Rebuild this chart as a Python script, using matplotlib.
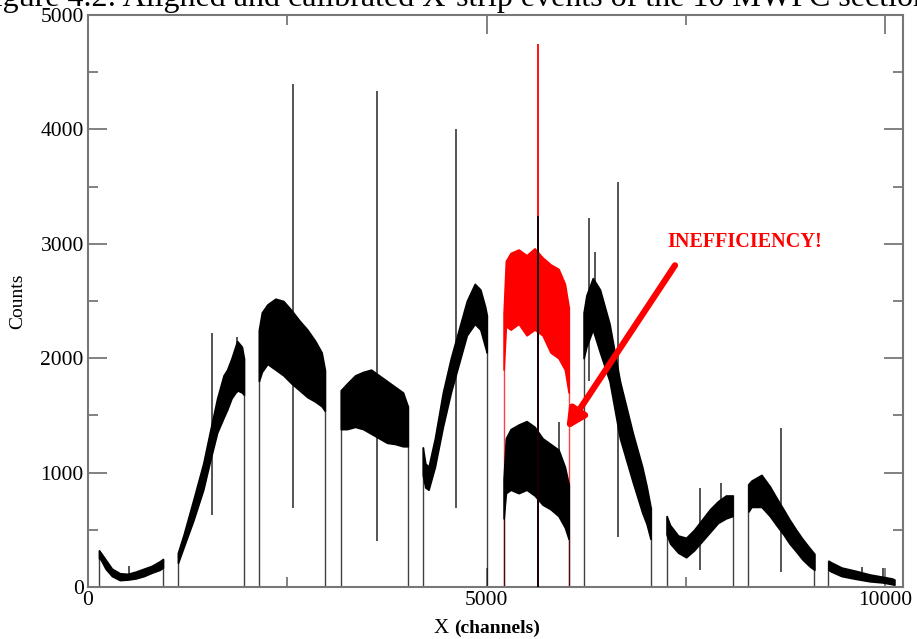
import numpy as np
import matplotlib
matplotlib.use('Agg')
import matplotlib.pyplot as plt
from matplotlib.ticker import MultipleLocator

plt.rcParams['font.family'] = ['Liberation Serif', 'DejaVu Serif']

# envelope of each 10-strip section (channel, upper, lower counts)
s1_x = [138, 160, 220, 300, 400, 500, 600, 700, 800, 900, 940]
s1_hi = [320, 300, 240, 160, 120, 115, 135, 160, 185, 225, 245]
s1_lo = [250, 240, 160, 95, 60, 65, 75, 95, 125, 150, 170]

s2_x = [1128, 1200, 1320, 1445, 1530, 1620, 1700, 1745, 1800, 1870, 1930, 1955]
s2_hi = [300, 460, 760, 1080, 1360, 1650, 1850, 1900, 2000, 2150, 2100, 2000]
s2_lo = [210, 350, 580, 850, 1100, 1350, 1480, 1550, 1650, 1720, 1700, 1680]

s3_x = [2143, 2180, 2250, 2350, 2450, 2550, 2650, 2750, 2850, 2930, 2970]
s3_hi = [2250, 2400, 2470, 2520, 2500, 2420, 2330, 2250, 2150, 2050, 1900]
s3_lo = [1800, 1880, 1950, 1900, 1850, 1780, 1720, 1660, 1620, 1580, 1540]

s4_x = [3170, 3250, 3350, 3450, 3550, 3650, 3750, 3850, 3950, 4010]
s4_hi = [1720, 1780, 1850, 1880, 1900, 1850, 1800, 1750, 1700, 1580]
s4_lo = [1380, 1380, 1400, 1380, 1340, 1300, 1260, 1250, 1230, 1230]

s5_x = [4198, 4230, 4270, 4350, 4450, 4550, 4650, 4750, 4850, 4920, 4980, 5000]
s5_hi = [1220, 1080, 1050, 1300, 1700, 2000, 2250, 2500, 2650, 2600, 2450, 2380]
s5_lo = [980, 870, 850, 1050, 1400, 1700, 1950, 2200, 2300, 2250, 2100, 2050]

# section 6: before (red) and after (black) alignment
s6_x = [5212, 5240, 5300, 5400, 5500, 5600, 5700, 5800, 5900, 5980, 6027]
s6r_hi = [2400, 2850, 2920, 2950, 2900, 2960, 2880, 2820, 2780, 2650, 2450]
s6r_lo = [1900, 2280, 2250, 2300, 2200, 2250, 2200, 2050, 2000, 1900, 1700]
s6_hi = [950, 1300, 1380, 1420, 1450, 1400, 1300, 1250, 1200, 1050, 900]
s6_lo = [600, 820, 850, 820, 850, 800, 720, 680, 620, 520, 420]

s7_x = [6215, 6250, 6330, 6420, 6540, 6670, 6830, 6950, 7005, 7054]
s7_hi = [2400, 2550, 2700, 2600, 2300, 1800, 1350, 1050, 880, 700]
s7_lo = [2000, 2100, 2250, 2050, 1800, 1300, 920, 650, 550, 420]

s8_x = [7255, 7300, 7400, 7500, 7600, 7700, 7800, 7900, 8000, 8082]
s8_hi = [620, 540, 450, 430, 500, 590, 680, 750, 800, 800]
s8_lo = [460, 380, 300, 260, 320, 400, 480, 560, 600, 620]

s9_x = [8282, 8320, 8445, 8550, 8633, 8720, 8796, 8880, 8960, 9050, 9109]
s9_hi = [900, 930, 980, 880, 780, 680, 590, 500, 420, 340, 290]
s9_lo = [660, 700, 700, 620, 540, 460, 380, 310, 240, 180, 150]

s10_x = [9285, 9320, 9450, 9635, 9800, 9960, 10080, 10112]
s10_hi = [230, 215, 170, 140, 110, 90, 75, 65]
s10_lo = [150, 135, 95, 70, 50, 40, 25, 20]

# single hot channels
spike_x = [515, 1560, 1870, 2570, 3620, 4611, 5910, 6278, 6353, 6641, 7670, 7944, 8690, 9711, 9974]
spike_lo = [60, 630, 1700, 690, 400, 690, 800, 1800, 2400, 440, 150, 700, 130, 60, 40]
spike_hi = [180, 2220, 2185, 4400, 4340, 4000, 1440, 3225, 2930, 3540, 865, 910, 1390, 175, 165]
peak_x = 5640
peak_red = 4750
peak_black = 3240

black_secs = [(s1_x, s1_hi, s1_lo), (s2_x, s2_hi, s2_lo), (s3_x, s3_hi, s3_lo),
              (s4_x, s4_hi, s4_lo), (s5_x, s5_hi, s5_lo), (s7_x, s7_hi, s7_lo),
              (s8_x, s8_hi, s8_lo), (s9_x, s9_hi, s9_lo), (s10_x, s10_hi, s10_lo)]

fig = plt.figure(figsize=(9.17, 6.39), dpi=100)
ax = fig.add_axes([88/917, 1-587/639, 815/917, 572/639])


def band(x, hi, lo, col):
    ax.fill_between(x, lo, hi, color=col, lw=1.2, zorder=2)
    ax.vlines([x[0], x[-1]], 0, [hi[0], hi[-1]], color=col, lw=1.0, alpha=0.75, zorder=2)


for x, hi, lo in black_secs:
    band(x, hi, lo, 'black')

band(s6_x, s6r_hi, s6r_lo, 'red')
ax.vlines(peak_x, 0, peak_red, color='red', lw=1.3, zorder=3)
band(s6_x, s6_hi, s6_lo, 'black')
ax.vlines(peak_x, 0, peak_black, color='black', lw=1.3, zorder=4)
ax.vlines(spike_x, spike_lo, spike_hi, color='black', lw=1.1, alpha=0.85, zorder=3)

ax.annotate('', xy=(5977, 1355), xytext=(7380, 2832),
            arrowprops=dict(arrowstyle='-|>', color='red', lw=4.5, mutation_scale=28))
ax.text(8232, 3015, 'INEFFICIENCY!', color='red', fontweight='bold',
        ha='center', va='center', fontsize=14.5)

ax.set_xlim(0, 10220)
ax.set_ylim(0, 5000)
ax.xaxis.set_major_locator(MultipleLocator(5000))
ax.xaxis.set_minor_locator(MultipleLocator(2500))
ax.yaxis.set_major_locator(MultipleLocator(1000))
ax.yaxis.set_minor_locator(MultipleLocator(500))
ax.tick_params(which='both', direction='in', top=True, right=True, color='#777777',
               labelsize=15.5, width=1.3, pad=3)
ax.tick_params(which='major', length=14)
ax.tick_params(which='minor', length=7)
for sp in ax.spines.values():
    sp.set_color('#777777')
    sp.set_linewidth(1.5)

ax.set_ylabel('Counts', fontsize=14, labelpad=10)
ax.text(0.443, -0.072, 'X', transform=ax.transAxes, ha='right', va='center', fontsize=15)
ax.text(0.449, -0.072, '(channels)', transform=ax.transAxes, ha='left', va='center',
        fontsize=14, fontweight='bold')

fig.text(-0.026, 1 - 6/639, 'Figure 4.2: Aligned and calibrated X-strip events of the 10 MWPC sections',
         fontsize=23, va='baseline', ha='left')

fig.savefig('out.png', dpi=100)
